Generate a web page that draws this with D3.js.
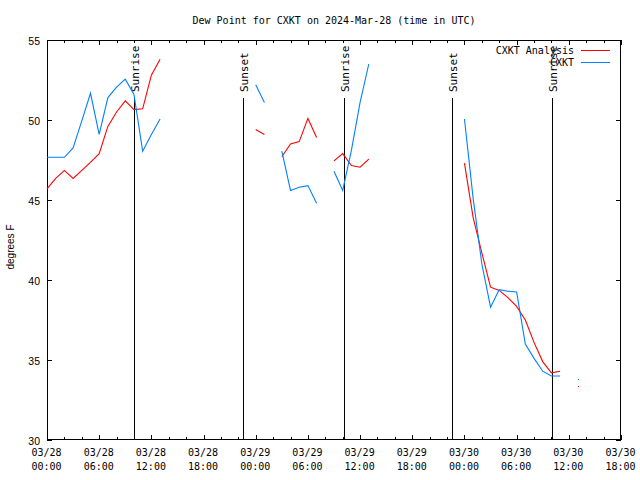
<!DOCTYPE html>
<html><head><meta charset="utf-8">
<script src="https://cdn.jsdelivr.net/npm/d3@7"></script>
<style>
html,body{margin:0;padding:0;background:#fff;}
svg{display:block;}
</style></head>
<body>
<script>
// ---- data (hours after 2024-03-28 00:00 UTC) ----
const hours = d3.range(0, 62);
const analysis = [45.7,46.35,46.85,46.35,46.85,47.35,47.9,49.6,50.5,51.2,50.65,50.7,52.8,53.8,
  null,null,null,null,null,null,null,null,null,null,
  49.4,49.1,null,47.7,48.5,48.65,50.1,48.9,null,47.45,47.9,47.15,47.05,47.55,
  null,null,null,null,null,null,null,null,null,null,
  47.3,43.9,41.7,39.55,39.35,38.9,38.35,37.5,36.1,34.9,34.2,34.3,null,33.4];
const observed = [47.67,47.67,47.67,48.25,49.95,51.67,49.1,51.4,52.05,52.55,51.6,48.05,49.1,50.06,
  null,null,null,null,null,null,null,null,null,null,
  52.2,51.1,null,48.05,45.6,45.8,45.9,44.8,null,46.8,45.6,48.1,51.1,53.5,
  null,null,null,null,null,null,null,null,null,null,
  50.06,45.1,41.0,38.3,39.4,39.3,39.25,36.0,35.1,34.3,34.0,34.0,null,33.8];
const sunEvents = [
  {h:10.05, label:"Sunrise"},
  {h:22.53, label:"Sunset"},
  {h:34.13, label:"Sunrise"},
  {h:46.55, label:"Sunset"},
  {h:58.03, label:"Sunrise"}];
const yTicks = [30,35,40,45,50,55];
const seriesNames = ["CXKT Analysis","CXKT"];
const seriesColors = ["#ff0000","#0080ff"];
const title = "Dew Point for CXKT on 2024-Mar-28 (time in UTC)";
const yLabel = "degrees F";

// ---- layout ----
const W = 640, H = 480;
const L = 47, R = 621, T = 40, B = 440;
const t0 = Date.UTC(2024,2,28,0,0);
const hToDate = h => new Date(t0 + h*3600e3);

const x = d3.scaleUtc().domain([hToDate(0), hToDate(66)]).range([L, R]);
const y = d3.scaleLinear().domain([30,55]).range([B, T]);

const svg = d3.select("body").append("svg").attr("width",W).attr("height",H);
const mono = "'DejaVu Sans Mono', 'Liberation Mono', monospace";
const sans = "'Liberation Sans', Arial, sans-serif";

// title
svg.append("text").attr("x",334).attr("y",24).attr("text-anchor","middle")
  .style("font-family",mono).style("font-size","10px").text(title);

// y label
svg.append("text").attr("transform","translate(14,247) rotate(-90)")
  .attr("text-anchor","middle").style("font-family",sans).style("font-size","10px").text(yLabel);

// axes
const major = d3.utcHour.every(6);
const minor = d3.utcHour.every(2);
const g = svg.append("g").attr("shape-rendering","crispEdges");

g.append("g").attr("transform",`translate(0,${B})`)
  .call(d3.axisTop(x).ticks(minor).tickSize(3).tickFormat(""))
  .call(s=>{s.select(".domain").remove(); s.selectAll("line").attr("stroke","#000");});
g.append("g").attr("transform",`translate(0,${T})`)
  .call(d3.axisBottom(x).ticks(minor).tickSize(3).tickFormat(""))
  .call(s=>{s.select(".domain").remove(); s.selectAll("line").attr("stroke","#000");});
const fmtD = d3.utcFormat("%m/%d"), fmtT = d3.utcFormat("%H:%M");
const xb = g.append("g").attr("transform",`translate(0,${B})`)
  .call(d3.axisTop(x).ticks(major).tickSize(5).tickFormat(""));
xb.select(".domain").remove();
xb.selectAll("line").attr("stroke","#000");
xb.selectAll(".tick").each(function(d){
  const t = d3.select(this).append("text").attr("fill","#000")
    .attr("text-anchor","middle").style("font-family",mono).style("font-size","10px");
  t.append("tspan").attr("x",-1).attr("y",16).text(fmtD(d));
  t.append("tspan").attr("x",-1).attr("y",30).text(fmtT(d));
});
const xt = g.append("g").attr("transform",`translate(0,${T})`)
  .call(d3.axisBottom(x).ticks(major).tickSize(5).tickFormat(""));
xt.select(".domain").remove();
xt.selectAll("line").attr("stroke","#000");

const yl = g.append("g").attr("transform",`translate(${L},0)`)
  .call(d3.axisRight(y).tickValues(yTicks).tickSize(5).tickFormat(""));
yl.select(".domain").remove(); yl.selectAll("line").attr("stroke","#000");
yl.selectAll(".tick").append("text").attr("fill","#000").attr("x",-7).attr("y",4)
  .attr("text-anchor","end").style("font-family",sans).style("font-size","10.5px").text(d=>d);
const yr = g.append("g").attr("transform",`translate(${R},0)`)
  .call(d3.axisLeft(y).tickValues(yTicks).tickSize(5).tickFormat(""));
yr.select(".domain").remove(); yr.selectAll("line").attr("stroke","#000");

g.append("rect").attr("x",L+0.5).attr("y",T+0.5).attr("width",R-L-1).attr("height",B-T-1)
  .attr("fill","none").attr("stroke","#000");

// sun event lines
sunEvents.forEach(e=>{
  const xx = Math.round(x(hToDate(e.h)))+0.5;
  g.append("line").attr("x1",xx).attr("x2",xx).attr("y1",98).attr("y2",B).attr("stroke","#000");
  svg.append("text").attr("transform",`translate(${xx+4.5},92) rotate(-90)`)
    .attr("text-anchor","start").style("font-family",mono).style("font-size","11px").text(e.label);
});

// series
const plot = svg.append("g");
[analysis, observed].forEach((vals,i)=>{
  const pts = hours.map((h,j)=>({h, v:vals[j]}));
  const line = d3.line().defined(d=>d.v!=null).x(d=>x(hToDate(d.h))).y(d=>y(d.v));
  plot.append("path").datum(pts).attr("d",line).attr("fill","none")
    .attr("stroke",seriesColors[i]).attr("stroke-width",1.1);
  pts.forEach((d,j)=>{
    if(d.v==null) return;
    const prev = j>0 ? vals[j-1] : null, next = j<vals.length-1 ? vals[j+1] : null;
    if(prev==null && next==null){
      plot.append("rect").attr("x",Math.round(x(hToDate(d.h)))).attr("y",Math.round(y(d.v)))
        .attr("width",1).attr("height",1).attr("fill",seriesColors[i]);
    }
  });
});

// legend
seriesNames.forEach((n,i)=>{
  const yy = 50 + i*12;
  svg.append("text").attr("x",574).attr("y",yy+4).attr("text-anchor","end")
    .style("font-family",mono).style("font-size","10px").text(n);
  svg.append("line").attr("x1",581).attr("x2",610).attr("y1",yy+0.5).attr("y2",yy+0.5)
    .attr("stroke",seriesColors[i]).attr("shape-rendering","crispEdges");
});
</script>
</body></html>
